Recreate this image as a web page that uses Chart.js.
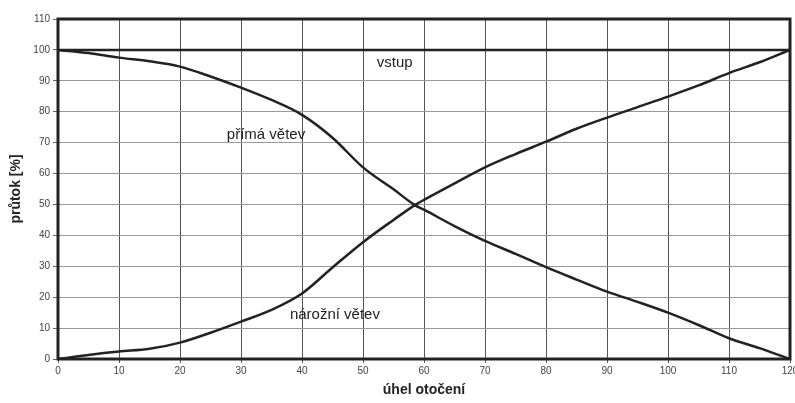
<!DOCTYPE html>
<html>
<head>
<meta charset="utf-8">
<script src="https://cdn.jsdelivr.net/npm/chart.js@4.4.1/dist/chart.umd.min.js"></script>
<style>
  html, body { margin: 0; padding: 0; background: #fff; }
  #wrap { width: 795px; height: 403px; position: relative; }
</style>
</head>
<body>
<div id="wrap"><canvas id="chart"></canvas></div>
<script>
// angle of rotation (deg) and flow (%)
const angles = [0, 5, 10, 15, 20, 25, 30, 35, 40, 45, 50, 55, 58.5, 60, 65, 70, 75, 80, 85, 90, 95, 100, 105, 110, 115, 120];
const primaVetev = [100, 99, 97.5, 96.3, 94.6, 91.4, 87.8, 83.8, 79, 71.6, 62, 54.9, 49.8, 48.3, 43, 38.2, 34, 29.7, 25.7, 21.8, 18.5, 15, 11, 6.7, 3.5, 0];
const narozniVetev = [0, 1.3, 2.4, 3.3, 5.3, 8.5, 12.1, 15.9, 21.2, 29.6, 37.8, 45, 49.8, 51.5, 56.8, 62, 66.3, 70.3, 74.5, 78.1, 81.5, 84.9, 88.5, 92.5, 96, 100];
const vstup = angles.map(() => 100);

const xTicks = [0, 10, 20, 30, 40, 50, 60, 70, 80, 90, 100, 110, 120];
const yTicks = [0, 10, 20, 30, 40, 50, 60, 70, 80, 90, 100, 110];

// text labels inside the plot, in data coordinates
const notes = [
  { text: 'vstup', x: 55.2, y: 95.8 },
  { text: 'přímá větev', x: 34.1, y: 72.5 },
  { text: 'nárožní větev', x: 45.4, y: 14.2 }
];

function pts(ys) {
  return angles.map((a, i) => ({ x: a, y: ys[i] }));
}

const frame = {
  id: 'frame',
  afterDatasetsDraw(chart) {
    const a = chart.chartArea, ctx = chart.ctx;
    ctx.save();
    ctx.strokeStyle = '#222';
    ctx.lineWidth = 3;
    ctx.strokeRect(a.left, a.top, a.right - a.left, a.bottom - a.top);
    ctx.fillStyle = '#222';
    ctx.font = '15px "Liberation Sans", Arial, sans-serif';
    ctx.textAlign = 'center';
    ctx.textBaseline = 'middle';
    notes.forEach(n => {
      ctx.fillText(n.text, chart.scales.x.getPixelForValue(n.x), chart.scales.y.getPixelForValue(n.y));
    });
    ctx.restore();
  }
};

const lineStyle = {
  borderColor: '#222',
  borderWidth: 2.5,
  pointRadius: 0,
  fill: false,
  cubicInterpolationMode: 'monotone'
};

new Chart(document.getElementById('chart'), {
  type: 'line',
  data: {
    datasets: [
      Object.assign({ label: 'vstup', data: pts(vstup) }, lineStyle),
      Object.assign({ label: 'přímá větev', data: pts(primaVetev) }, lineStyle),
      Object.assign({ label: 'nárožní větev', data: pts(narozniVetev) }, lineStyle)
    ]
  },
  options: {
    responsive: true,
    maintainAspectRatio: false,
    animation: false,
    layout: { padding: { top: 19, right: 5, left: 0, bottom: 0 } },
    plugins: { legend: { display: false }, tooltip: { enabled: false } },
    scales: {
      x: {
        type: 'linear',
        min: 0, max: 120,
        afterBuildTicks: s => { s.ticks = xTicks.map(v => ({ value: v })); },
        afterFit: s => { s.height = 44; s.paddingRight = 0; s.paddingLeft = 0; },
        grid: { color: '#555', lineWidth: 1, tickLength: 4, tickColor: '#555' },
        border: { display: false },
        ticks: { color: '#444', font: { size: 10, family: 'Arial, sans-serif' }, padding: 2, maxRotation: 0 },
        title: {
          display: true, text: 'úhel otočení', color: '#222',
          font: { size: 14, weight: 'bold', family: 'Arial, sans-serif' }, padding: { top: 13 }
        }
      },
      y: {
        min: 0, max: 110,
        afterBuildTicks: s => { s.ticks = yTicks.map(v => ({ value: v })); },
        afterFit: s => { s.width = 58; },
        grid: { color: '#999', lineWidth: 1, tickLength: 5, tickColor: '#666' },
        border: { display: false },
        ticks: { color: '#444', font: { size: 10, family: 'Arial, sans-serif' }, padding: 3 },
        title: {
          display: true, text: 'průtok [%]', color: '#222',
          font: { size: 14, weight: 'bold', family: 'Arial, sans-serif' }, padding: { top: 8, bottom: 2 }
        }
      }
    }
  },
  plugins: [frame]
});
</script>
</body>
</html>
